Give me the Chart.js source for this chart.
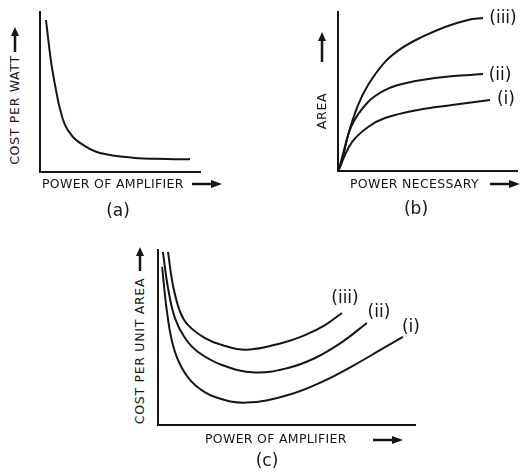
<!DOCTYPE html>
<html>
<head>
<meta charset="utf-8">
<script src="https://cdn.jsdelivr.net/npm/chart.js@4.4.1/dist/chart.umd.min.js"></script>
<style>
  html, body { margin: 0; padding: 0; background: #fff; }
  body { width: 522px; height: 476px; position: relative; overflow: hidden; font-family: "DejaVu Sans", sans-serif; color: #151515; }
  canvas { position: absolute; }
  .lbl { position: absolute; white-space: nowrap; font-size: 12.5px; letter-spacing: 0.3px; line-height: 1; }
  .rot { transform: translate(-50%, -50%) rotate(-90deg); letter-spacing: 0.7px; }
  .cap { position: absolute; font-size: 17px; transform: translate(-50%, -50%); line-height: 1; }
  svg { position: absolute; overflow: visible; }
</style>
</head>
<body>
<canvas id="chartA" width="180" height="180" style="left:30px; top:2px;"></canvas>
<canvas id="chartB" width="193" height="179" style="left:328px; top:2px;"></canvas>
<canvas id="chartC" width="277" height="195" style="left:148px; top:240px;"></canvas>

<!-- panel (a) text -->
<div class="lbl rot" style="left:15px; top:110px;">COST PER WATT</div>
<svg style="left:15px; top:27px;" width="1" height="1"><path d="M0 25 L0 6" stroke="#151515" stroke-width="2.5"/><path d="M-4 9 L0 0 L4 9 Z" fill="#151515"/></svg>
<div class="lbl" style="left:42px; top:178px;">POWER OF AMPLIFIER</div>
<svg style="left:192px; top:184px;" width="1" height="1"><path d="M0 0 L22 0" stroke="#151515" stroke-width="2.5"/><path d="M19 -4 L30 0 L19 4 Z" fill="#151515"/></svg>
<div class="cap" style="left:118px; top:210px;">(a)</div>

<!-- panel (b) text -->
<div class="lbl rot" style="left:322px; top:111px;">AREA</div>
<svg style="left:322px; top:32px;" width="1" height="1"><path d="M0 30 L0 6" stroke="#151515" stroke-width="2.5"/><path d="M-4 9 L0 0 L4 9 Z" fill="#151515"/></svg>
<div class="lbl" style="left:350px; top:178px;">POWER NECESSARY</div>
<svg style="left:490px; top:184px;" width="1" height="1"><path d="M0 0 L22 0" stroke="#151515" stroke-width="2.5"/><path d="M19 -4 L30 0 L19 4 Z" fill="#151515"/></svg>
<div class="cap" style="left:416px; top:208px;">(b)</div>

<!-- panel (c) text -->
<div class="lbl rot" style="left:140px; top:351px;">COST PER UNIT AREA</div>
<svg style="left:140px; top:247px;" width="1" height="1"><path d="M0 24 L0 6" stroke="#151515" stroke-width="2.5"/><path d="M-4 9 L0 0 L4 9 Z" fill="#151515"/></svg>
<div class="lbl" style="left:205px; top:433px;">POWER OF AMPLIFIER</div>
<svg style="left:373px; top:440px;" width="1" height="1"><path d="M0 0 L22 0" stroke="#151515" stroke-width="2.5"/><path d="M19 -4 L30 0 L19 4 Z" fill="#151515"/></svg>
<div class="cap" style="left:267px; top:460px;">(c)</div>

<script>
// (a) cost per watt vs power of amplifier
const aPower = [3.75, 5.2, 7.2, 9.4, 11.9, 15.6, 20.6, 26.9, 37.5, 58.1, 79.4, 93.75];
const aCost  = [95, 82.5, 66.9, 54.4, 41.9, 29.4, 21.9, 16.9, 11.9, 8.9, 8.1, 7.9];

// (b) area vs power necessary, curves (i) (ii) (iii)
const bPowerI   = [0.3, 2.2, 7.8, 16.8, 26.3, 44.7, 63.7, 84.9];
const bAreaI    = [0.5, 5.7, 18.2, 27.7, 33.3, 38.4, 41.5, 44.7];
const bPowerII  = [0.3, 2.2, 7.8, 16.8, 26.3, 35.8, 54.2, 81];
const bAreaII   = [0.5, 8.2, 28.9, 43.4, 50.9, 54.7, 58.5, 61];
const bPowerIII = [0.3, 2.2, 5.6, 11.2, 16.8, 26.3, 35.8, 46.9, 59.8, 72.6, 81];
const bAreaIII  = [0.5, 5.7, 22.6, 41.5, 54.1, 68.6, 77.4, 84.3, 90.6, 95, 96.2];

// (c) cost per unit area vs power of amplifier
const cPowerI   = [1.6, 3.5, 5.8, 9.3, 14.4, 22.2, 34.4, 50.6, 63.8, 76.7, 87.2, 95.3];
const cCostI    = [90.3, 64.6, 45.7, 32.6, 22.9, 16, 12.8, 17.1, 24.6, 34.5, 43.5, 50.3];
const cPowerII  = [1.9, 3.9, 6.6, 10.5, 15.6, 24.9, 37.7, 50.6, 61.1, 71.6, 81.3];
const cCostII   = [98.9, 78.3, 61.1, 49.7, 41.7, 34.3, 30, 32.6, 38.3, 47.4, 58.3];
const cPowerIII = [3.9, 5.8, 8.6, 11.7, 18.3, 24.9, 34.4, 48.2, 57.2, 65, 71.6];
const cCostIII  = [98.9, 80, 64.6, 57.1, 49.7, 45.7, 43, 46.9, 51.4, 57.1, 64];

const curveLabels = ['(i)', '(ii)', '(iii)'];

const ink = '#151515';

function pts(xs, ys) {
    return xs.map((x, i) => ({ x: x, y: ys[i] }));
}

function curve(xs, ys, label) {
    return {
        data: pts(xs, ys),
        showLine: true,
        borderColor: ink,
        borderWidth: 2,
        pointRadius: 0,
        fill: false,
        tension: 0.4,
        clip: false,
        endLabel: label
    };
}

// draws "(i)" style tags just past the end of each curve
const endLabels = {
    id: 'endLabels',
    afterDatasetsDraw(chart) {
        const ctx = chart.ctx;
        const xs = chart.scales.x, ys = chart.scales.y;
        ctx.save();
        ctx.fillStyle = ink;
        ctx.font = '17px "DejaVu Sans"';
        ctx.textAlign = 'center';
        ctx.textBaseline = 'middle';
        chart.data.datasets.forEach(ds => {
            if (!ds.endLabel) return;
            const last = ds.data[ds.data.length - 1];
            ctx.fillText(ds.endLabel.text,
                xs.getPixelForValue(last.x) + ds.endLabel.dx,
                ys.getPixelForValue(last.y) + ds.endLabel.dy);
        });
        ctx.restore();
    }
};

function axis() {
    return {
        type: 'linear',
        min: 0,
        max: 100,
        grid: { display: false, drawTicks: false },
        ticks: { display: false },
        border: { display: true, color: ink, width: 2 }
    };
}

function makeChart(id, datasets, padding) {
    return new Chart(document.getElementById(id), {
        type: 'scatter',
        data: { datasets: datasets },
        options: {
            responsive: false,
            animation: false,
            devicePixelRatio: 1,
            layout: { padding: padding },
            plugins: { legend: { display: false }, tooltip: { enabled: false } },
            scales: { x: axis(), y: axis() }
        },
        plugins: [endLabels]
    });
}

makeChart('chartA', [curve(aPower, aCost, null)], 10);

makeChart('chartB', [
    curve(bPowerI, bAreaI, { text: curveLabels[0], dx: 16, dy: 0 }),
    curve(bPowerII, bAreaII, { text: curveLabels[1], dx: 17, dy: 2 }),
    curve(bPowerIII, bAreaIII, { text: curveLabels[2], dx: 20, dy: 1 })
], { left: 10, top: 10, right: 4, bottom: 10 });

makeChart('chartC', [
    curve(cPowerI, cCostI, { text: curveLabels[0], dx: 8, dy: -9 }),
    curve(cPowerII, cCostII, { text: curveLabels[1], dx: 12, dy: -10 }),
    curve(cPowerIII, cCostIII, { text: curveLabels[2], dx: 3, dy: -14 })
], 10);
</script>
</body>
</html>
